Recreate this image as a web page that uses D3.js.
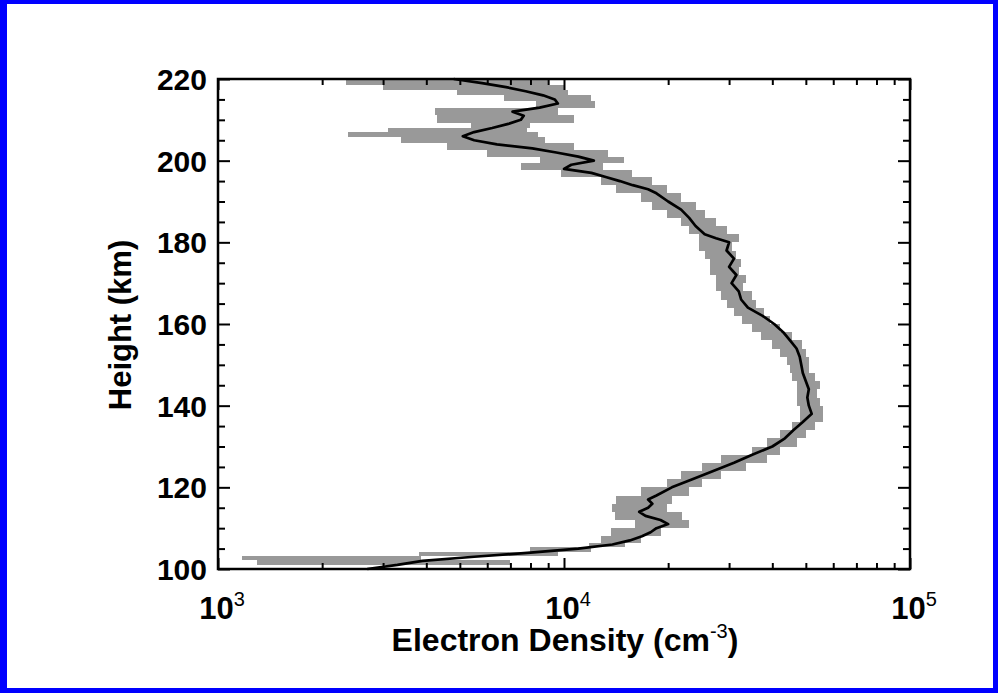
<!DOCTYPE html>
<html>
<head>
<meta charset="utf-8">
<script src="https://cdn.jsdelivr.net/npm/d3@7"></script>
<style>
  html, body { margin: 0; padding: 0; background: #fff; }
  svg { display: block; }
  text { font-family: "Liberation Sans", Arial, Helvetica, sans-serif; font-weight: bold; fill: #000; }
</style>
</head>
<body>
<svg id="canvas" width="998" height="693"></svg>
<script>
// profile line: height (km) and electron density (cm^-3)
let lineHeights = [100, 101, 102, 103, 104, 105, 106, 107, 108, 109, 110, 111, 112, 113, 114, 115, 116, 117, 118,
  120, 122, 124, 126, 128, 130, 132, 134, 136, 138, 140, 142, 144, 146, 148, 150, 152, 154, 156, 158, 160,
  162, 164, 166, 168, 170, 172, 174, 176, 178, 180, 181, 182, 184, 186, 188, 190, 192, 193, 194, 195, 196,
  197, 198, 199, 200, 201, 202, 203, 204, 205, 206, 207, 208, 209, 210, 211, 212, 213, 214, 215, 216, 217,
  218, 219, 220]
let lineDensity = [2.7e3, 3.3e3, 3.9e3, 5.5e3, 8.0e3, 1.1e4, 1.38e4, 1.55e4, 1.68e4, 1.78e4, 1.85e4, 2.0e4, 1.9e4, 1.72e4, 1.65e4, 1.75e4, 1.8e4, 1.75e4, 1.85e4,
  2.05e4, 2.35e4, 2.7e4, 3.1e4, 3.5e4, 4.0e4, 4.35e4, 4.6e4, 4.9e4, 5.2e4, 5.1e4, 5.05e4, 5.1e4, 5.0e4, 4.9e4, 4.85e4, 4.8e4, 4.7e4, 4.5e4, 4.3e4, 4.05e4,
  3.75e4, 3.4e4, 3.25e4, 3.2e4, 3.05e4, 3.15e4, 3.0e4, 3.1e4, 2.95e4, 3.0e4, 2.75e4, 2.55e4, 2.4e4, 2.3e4, 2.18e4, 2.0e4, 1.85e4, 1.75e4, 1.58e4, 1.45e4, 1.32e4,
  1.2e4, 1.0e4, 1.05e4, 1.22e4, 1.1e4, 9.5e3, 8.1e3, 6.4e3, 5.5e3, 5.1e3, 5.5e3, 6.2e3, 6.9e3, 7.5e3, 7.65e3, 7.1e3, 8.5e3, 9.6e3, 9.4e3, 8.7e3, 7.75e3,
  6.8e3, 5.8e3, 4.8e3]

// uncertainty band: bin edges (km) with low / high density for each bin
let bandEdges = [101.0, 102.2, 103.2, 104.2, 105.4, 106.4, 108, 110, 112, 114, 116, 118, 120, 122, 124, 126, 128, 130,
  132, 134, 136, 138, 140, 142, 144, 146, 148, 150, 152, 154, 156, 158, 160, 162, 164, 166, 168, 170, 172, 174,
  176, 178, 180, 182, 184, 186, 188, 190, 192, 194, 196, 197.8, 199.5, 201, 202.7, 204.4, 205.7, 206.9, 208.1,
  209.3, 211.3, 213, 214.5, 216.2, 217.4, 218.6, 220]
let bandLow = [1.3e3, 1.17e3, 3.8e3, 8.0e3, 1.18e4, 1.28e4, 1.37e4, 1.6e4, 1.4e4, 1.38e4, 1.41e4, 1.67e4, 1.98e4, 2.18e4, 2.5e4, 2.85e4, 3.5e4,
  3.85e4, 4.2e4, 4.56e4, 4.8e4, 4.8e4, 4.7e4, 4.7e4, 4.7e4, 4.56e4, 4.5e4, 4.4e4, 4.2e4, 4.0e4, 3.72e4, 3.5e4, 3.26e4, 3.1e4, 2.95e4, 2.85e4, 2.75e4, 2.75e4, 2.65e4,
  2.65e4, 2.55e4, 2.45e4, 2.45e4, 2.3e4, 2.18e4, 1.98e4, 1.8e4, 1.67e4, 1.41e4, 1.28e4, 9.8e3, 7.5e3, 8.5e3, 6.0e3, 4.6e3, 3.37e3, 2.38e3, 3.1e3,
  5.4e3, 4.3e3, 4.25e3, 8.3e3, 6.7e3, 4.9e3, 3.0e3, 2.35e3]
let bandHigh = [7.0e3, 3.85e3, 9.6e3, 1.2e4, 1.5e4, 1.67e4, 1.91e4, 2.3e4, 2.2e4, 1.98e4, 2.05e4, 2.3e4, 2.5e4, 2.85e4, 3.35e4, 3.85e4, 4.2e4,
  4.7e4, 5.0e4, 5.3e4, 5.6e4, 5.6e4, 5.5e4, 5.4e4, 5.5e4, 5.3e4, 5.1e4, 5.1e4, 5.0e4, 4.87e4, 4.56e4, 4.2e4, 3.95e4, 3.78e4, 3.6e4, 3.5e4, 3.3e4, 3.35e4, 3.2e4,
  3.25e4, 3.15e4, 3.05e4, 3.2e4, 2.95e4, 2.75e4, 2.55e4, 2.4e4, 2.18e4, 1.98e4, 1.8e4, 1.57e4, 1.3e4, 1.49e4, 1.34e4, 1.07e4, 8.8e3, 8.4e3, 7.8e3,
  8.0e3, 1.07e4, 9.6e3, 1.23e4, 1.2e4, 1.03e4, 1.0e4, 9.0e3]

// axis ticks
let xMajorTicks = [1e3, 1e4, 1e5]
let xTickExp = ['3', '4', '5']
let yMajorTicks = [100, 120, 140, 160, 180, 200, 220]

let plotLeft = 218, plotRight = 910, plotTop = 79, plotBottom = 569

let svg = d3.select('#canvas')

// blue frame
svg.append('rect').attr('width', 998).attr('height', 693).attr('fill', '#0000ff')
svg.append('rect').attr('x', 7).attr('y', 4).attr('width', 986).attr('height', 684).attr('fill', '#ffffff')

let x = d3.scaleLog().domain([1e3, 1e5]).range([plotLeft, plotRight])
let y = d3.scaleLinear().domain([100, 220]).range([plotBottom, plotTop])

let bins = bandLow.map((lo, i) => ({lo: lo, hi: bandHigh[i], h0: bandEdges[i], h1: bandEdges[i + 1]}))

svg.append('g')
    .selectAll('rect')
    .data(bins)
    .enter()
    .append('rect')
    .attr('x', (d) => x(d.lo))
    .attr('width', (d) => x(d.hi) - x(d.lo))
    .attr('y', (d) => y(d.h1))
    .attr('height', (d) => y(d.h0) - y(d.h1))
    .attr('fill', '#999999')
    .attr('shape-rendering', 'crispEdges')

let points = lineHeights.map((h, i) => ({h: h, n: lineDensity[i]}))

svg.append('path')
    .datum(points)
    .attr('d', d3.line().x((d) => x(d.n)).y((d) => y(d.h)))
    .attr('fill', 'none')
    .attr('stroke', '#000')
    .attr('stroke-width', 2.7)
    .attr('stroke-linejoin', 'round')

// ticks
let xMinorTicks = []
xMajorTicks.slice(0, 2).forEach((m) => {
    for (let k = 2; k < 10; k++) xMinorTicks.push(m * k)
})
let yMinorTicks = d3.range(105, 220, 5).filter((v) => v % 20 !== 0)

let styleAxis = (g) => {
    g.select('.domain').remove()
    g.selectAll('.tick line').attr('stroke', '#000').attr('stroke-width', 2)
}

let addAxis = (axis, tr) => svg.append('g').attr('transform', tr).call(axis).call(styleAxis)

addAxis(d3.axisBottom(x).tickValues(xMinorTicks).tickSize(-6).tickFormat(''), `translate(0,${plotBottom})`)
addAxis(d3.axisBottom(x).tickValues(xMajorTicks).tickSize(-11).tickFormat(''), `translate(0,${plotBottom})`)
addAxis(d3.axisTop(x).tickValues(xMinorTicks).tickSize(-6).tickFormat(''), `translate(0,${plotTop})`)
addAxis(d3.axisTop(x).tickValues(xMajorTicks).tickSize(-11).tickFormat(''), `translate(0,${plotTop})`)
addAxis(d3.axisLeft(y).tickValues(yMinorTicks).tickSize(-7).tickFormat(''), `translate(${plotLeft},0)`)
addAxis(d3.axisLeft(y).tickValues(yMajorTicks).tickSize(-12).tickFormat(''), `translate(${plotLeft},0)`)
addAxis(d3.axisRight(y).tickValues(yMinorTicks).tickSize(-7).tickFormat(''), `translate(${plotRight},0)`)
addAxis(d3.axisRight(y).tickValues(yMajorTicks).tickSize(-12).tickFormat(''), `translate(${plotRight},0)`)

// plot frame
svg.append('rect')
    .attr('x', plotLeft).attr('y', plotTop)
    .attr('width', plotRight - plotLeft).attr('height', plotBottom - plotTop)
    .attr('fill', 'none').attr('stroke', '#000').attr('stroke-width', 2.5)

// y tick labels
svg.append('g')
    .selectAll('text')
    .data(yMajorTicks)
    .enter()
    .append('text')
    .attr('x', 207)
    .attr('y', (d) => y(d) + 11)
    .attr('text-anchor', 'end')
    .style('font-size', '30px')
    .text((d) => d)

// x tick labels with exponents
let xl = svg.append('g')
    .selectAll('text')
    .data(xMajorTicks)
    .enter()
    .append('text')
    .attr('x', (d) => x(d) + 4)
    .attr('y', 619)
    .attr('text-anchor', 'middle')
    .style('font-size', '31px')
xl.append('tspan').text('10')
xl.append('tspan')
    .attr('dy', -13)
    .style('font-size', '20px')
    .style('font-weight', 'normal')
    .text((d, i) => xTickExp[i])

// axis titles
let xt = svg.append('text')
    .attr('x', 565)
    .attr('y', 651)
    .attr('text-anchor', 'middle')
    .style('font-size', '32px')
xt.append('tspan').text('Electron Density (cm')
xt.append('tspan').attr('dy', -13).style('font-size', '20px').style('font-weight', 'normal').text('-3')
xt.append('tspan').attr('dy', 13).text(')')

svg.append('text')
    .attr('transform', 'translate(131,325) rotate(-90)')
    .attr('text-anchor', 'middle')
    .style('font-size', '31px')
    .text('Height (km)')
</script>
</body>
</html>
